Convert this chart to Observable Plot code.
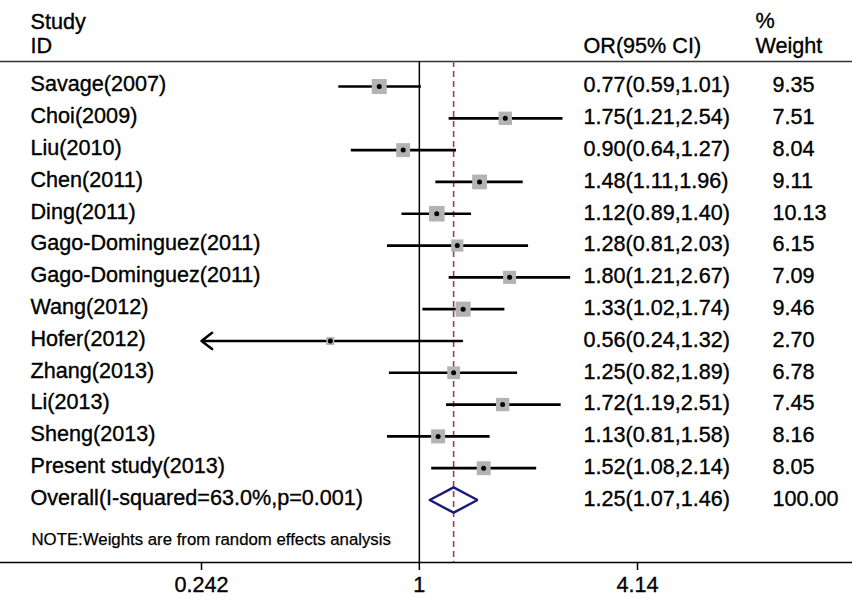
<!DOCTYPE html>
<html>
<head>
<meta charset="utf-8">
<script src="https://cdn.jsdelivr.net/npm/d3@7"></script>
<script src="https://cdn.jsdelivr.net/npm/@observablehq/plot@0.6"></script>
<style>
  html, body { margin: 0; padding: 0; background: #fff; }
</style>
</head>
<body>
<div id="chart"></div>
<script>
// ---- Data ----
const studies = [
  "Savage(2007)", "Choi(2009)", "Liu(2010)", "Chen(2011)", "Ding(2011)",
  "Gago-Dominguez(2011)", "Gago-Dominguez(2011)", "Wang(2012)", "Hofer(2012)",
  "Zhang(2013)", "Li(2013)", "Sheng(2013)", "Present study(2013)"
];
const orValues = [0.77, 1.75, 0.90, 1.48, 1.12, 1.28, 1.80, 1.33, 0.56, 1.25, 1.72, 1.13, 1.52];
const lowerCI  = [0.59, 1.21, 0.64, 1.11, 0.89, 0.81, 1.21, 1.02, 0.24, 0.82, 1.19, 0.81, 1.08];
const upperCI  = [1.01, 2.54, 1.27, 1.96, 1.40, 2.03, 2.67, 1.74, 1.32, 1.89, 2.51, 1.58, 2.14];
const weights  = [9.35, 7.51, 8.04, 9.11, 10.13, 6.15, 7.09, 9.46, 2.70, 6.78, 7.45, 8.16, 8.05];

const overallLabel = "Overall(I-squared=63.0%,p=0.001)";
const overallOR = 1.25;
const overallLower = 1.07;
const overallUpper = 1.46;
const overallWeight = 100.00;

const xTicks = [0.242, 1, 4.14];
const headerStudy = ["Study", "ID"];
const headerOR = "OR(95% CI)";
const headerWeight = ["%", "Weight"];
const noteText = "NOTE:Weights are from random effects analysis";

// ---- Derived tables ----
const xMin = xTicks[0];
const fmt = d3.format(".2f");
const rows = studies.map((s, i) => ({i, label: s, or: orValues[i], lo: lowerCI[i], hi: upperCI[i], w: weights[i]}));
const overallRow = {i: studies.length, label: overallLabel, or: overallOR, lo: overallLower, hi: overallUpper, w: overallWeight};
const allRows = [...rows, overallRow];
const ciText = d => `${fmt(d.or)}(${fmt(d.lo)},${fmt(d.hi)})`;
const fullCI = rows.filter(d => d.lo >= xMin);
const clippedCI = rows.filter(d => d.lo < xMin);
const halfH = 0.4;
const diamond = [
  {x: overallRow.lo, y: overallRow.i},
  {x: overallRow.or, y: overallRow.i - halfH},
  {x: overallRow.hi, y: overallRow.i},
  {x: overallRow.or, y: overallRow.i + halfH},
  {x: overallRow.lo, y: overallRow.i}
];

const font = "Arial, 'Liberation Sans', Helvetica, sans-serif";
const fs = 21.6;
const txt = {textAnchor: "start", fontSize: fs, fill: "#000", stroke: "#000", strokeWidth: 0.35};

const chart = Plot.plot({
  width: 852,
  height: 599,
  marginLeft: 0,
  marginRight: 0,
  marginTop: 61,
  marginBottom: 37,
  style: {fontFamily: font, fontSize: fs + "px", color: "#000", background: "#fff", overflow: "visible"},
  x: {type: "log", domain: [xTicks[0], xTicks[xTicks.length - 1]], range: [201, 637]},
  y: {domain: [0, studies.length], range: [86, 499.5], axis: null},
  r: {type: "sqrt", domain: [0, 10], range: [0, 8.75]},
  marks: [
    Plot.frame({anchor: "top", stroke: "#333", strokeWidth: 1.5}),
    Plot.ruleX([1], {stroke: "#000", strokeWidth: 1.5}),
    Plot.ruleX([overallOR], {stroke: "#a83a46", strokeWidth: 1.6, strokeDasharray: "6,4"}),
    Plot.link(fullCI, {x1: "lo", x2: "hi", y1: "i", y2: "i", stroke: "#000", strokeWidth: 2.7}),
    Plot.arrow(clippedCI, {x1: "hi", x2: () => xMin, y1: "i", y2: "i", stroke: "#000", strokeWidth: 2.5, headAngle: 75, headLength: 8}),
    Plot.dot(rows, {x: "or", y: "i", r: "w", symbol: "square", fill: "#b3b3b3"}),
    Plot.dot(rows, {x: "or", y: "i", r: 2.5, fill: "#000"}),
    Plot.line(diamond, {x: "x", y: "y", stroke: "#1b1b7d", strokeWidth: 2.5, strokeLinejoin: "miter"}),
    Plot.text(allRows, {...txt, y: "i", text: "label", frameAnchor: "left", dx: 30, dy: -2}),
    Plot.text(allRows, {...txt, y: "i", text: ciText, frameAnchor: "left", dx: 583, dy: -1}),
    Plot.text(allRows, {...txt, y: "i", text: d => fmt(d.w), frameAnchor: "left", dx: 772, dy: -1}),
    Plot.text([headerStudy[0]], {...txt, frameAnchor: "top-left", lineAnchor: "middle", dx: 30, dy: -39}),
    Plot.text([headerStudy[1]], {...txt, frameAnchor: "top-left", lineAnchor: "middle", dx: 30, dy: -15}),
    Plot.text([headerOR], {...txt, frameAnchor: "top-left", lineAnchor: "middle", dx: 583, dy: -15}),
    Plot.text([headerWeight[0]], {...txt, frameAnchor: "top-left", lineAnchor: "middle", dx: 755, dy: -40}),
    Plot.text([headerWeight[1]], {...txt, frameAnchor: "top-left", lineAnchor: "middle", dx: 755, dy: -15}),
    Plot.text([noteText], {...txt, frameAnchor: "bottom-left", lineAnchor: "middle", dx: 31, dy: -23, fontSize: 16.8, strokeWidth: 0.25}),
    Plot.axisX({ticks: xTicks, tickFormat: () => "", tickSize: 8, strokeWidth: 1.5, label: null}),
    Plot.text(xTicks, {...txt, x: d => d, text: d => String(d), frameAnchor: "bottom", lineAnchor: "middle", textAnchor: "middle", dy: 23}),
    Plot.frame({anchor: "bottom", stroke: "#000", strokeWidth: 1.5})
  ]
});

document.getElementById("chart").appendChild(chart);
</script>
</body>
</html>
